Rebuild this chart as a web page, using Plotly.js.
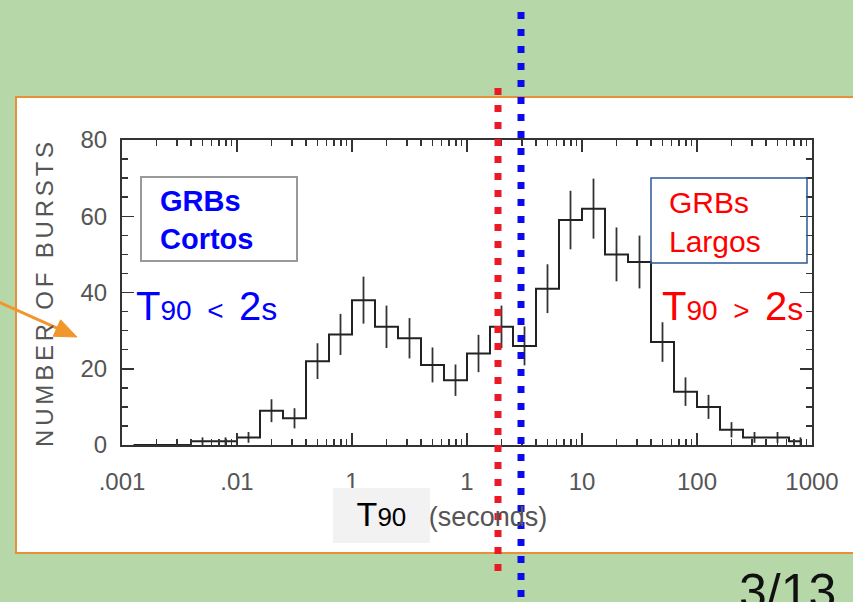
<!DOCTYPE html>
<html><head><meta charset="utf-8">
<script src="https://cdn.plot.ly/plotly-3.0.1.min.js"></script>
<style>
html,body{margin:0;padding:0;background:#b6d7a8;}
#chart{width:853px;height:602px;}
.ytitle{letter-spacing:3.8px;}
</style></head><body><div id="chart"></div>
<script>
// T90 bin centres (seconds), bins 0.2 dex wide
const binCentersSec = [0.001259,0.001995,0.003162,0.005012,0.007943,
  0.01259,0.01995,0.03162,0.05012,0.07943,
  0.1259,0.1995,0.3162,0.5012,0.7943,
  1.259,1.995,3.162,5.012,7.943,
  12.59,19.95,31.62,50.12,79.43,
  125.9,199.5,316.2,501.2,794.3];
const burstCounts = [0,0,0,1,1,
  2,9,7,22,29,
  38,31,28,21,17,
  24,31,26,41,59,
  62,50,48,27,14,
  10,4,2,2,1];
const xTickVals = [0.001,0.01,0.1,1,10,100,1000];
const xTickText = ['.001','.01','1','1','10','100','1000'];
const yTickVals = [0,20,40,60,80];
const yTickText = ['0','20','40','60','80'];

// plot-area pixel frame
const L=122, R=812, T=140, B=445, W=853, H=602;
const px = p => (p-L)/(R-L);
const py = p => (B-p)/(B-T);

const minorX = [];
for (let d=-3; d<3; d++) for (let k=2; k<10; k++) minorX.push(k*Math.pow(10,d));

const FONT = 'Liberation Sans, Arial, sans-serif';
const GRAY = '#555';

const trace = {
  x: binCentersSec, y: burstCounts, type:'scatter', mode:'lines',
  line:{shape:'hvh', color:'#222', width:2},
  error_y:{type:'sqrt', visible:true, width:0, thickness:1.8, color:'#333'},
  hoverinfo:'x+y', showlegend:false
};

// orange arrow (decoration) in pixel space
const tip=[77,337], tail=[-6,300];
const dx=tip[0]-tail[0], dy=tip[1]-tail[1], len=Math.hypot(dx,dy);
const ux=dx/len, uy=dy/len, hl=22, hw=9;
const bx=tip[0]-hl*ux, by=tip[1]-hl*uy;
const c1=[bx-hw*uy, by+hw*ux], c2=[bx+hw*uy, by-hw*ux];
const arrowPath = `M ${px(c1[0])} ${py(c1[1])} L ${px(tip[0])} ${py(tip[1])} L ${px(c2[0])} ${py(c2[1])} Z`;

const layout = {
  width:W, height:H,
  paper_bgcolor:'#b6d7a8', plot_bgcolor:'rgba(0,0,0,0)',
  margin:{l:L, r:W-R, t:T, b:H-B, pad:0},
  showlegend:false,
  font:{family:FONT, color:GRAY},
  xaxis:{
    type:'log', range:[-3,3], tickmode:'array', tickvals:xTickVals, ticktext:xTickText,
    ticks:'inside', ticklen:12, tickwidth:1.5, tickcolor:'#333',
    showline:true, linecolor:'#333', linewidth:2, mirror:'ticks',
    showgrid:false, zeroline:false, ticklabelstandoff:14,
    tickfont:{size:24, color:GRAY, family:FONT},
    minor:{tickmode:'array', tickvals:minorX, ticks:'inside', ticklen:6, tickwidth:1.5, tickcolor:'#333', showgrid:false},
    title:{text:"<span style='color:#000000;font-size:34px'>T</span><span style='color:#000000;font-size:26px'>90</span>&nbsp;&nbsp;&nbsp;(seconds)&nbsp;&nbsp;&nbsp;&nbsp;",
      font:{size:27, color:GRAY, family:FONT}, standoff:10}
  },
  yaxis:{
    range:[0,80], tickmode:'array', tickvals:yTickVals, ticktext:yTickText,
    ticks:'inside', ticklen:12, tickwidth:1.5, tickcolor:'#333',
    showline:true, linecolor:'#333', linewidth:2, mirror:'ticks',
    showgrid:false, zeroline:false, ticklabelstandoff:8,
    tickfont:{size:24, color:GRAY, family:FONT},
    minor:{dtick:5, ticks:'inside', ticklen:6, tickwidth:1.5, tickcolor:'#333', showgrid:false},
    title:{text:'NUMBER OF BURSTS', font:{size:24, color:GRAY, family:FONT}, standoff:20}
  },
  shapes:[
    {type:'rect', xref:'paper', yref:'paper', x0:px(16), x1:px(880), y0:py(553), y1:py(97),
     fillcolor:'#ffffff', line:{color:'#e69138', width:2}, layer:'below'},
    {type:'rect', xref:'paper', yref:'paper', x0:px(333), x1:px(430), y0:py(543), y1:py(488),
     fillcolor:'#f2f2f2', line:{width:0}, layer:'above'},
    {type:'rect', xref:'paper', yref:'paper', x0:px(141), x1:px(297), y0:py(261), y1:py(177),
     fillcolor:'rgba(0,0,0,0)', line:{color:'#999999', width:2}, layer:'above'},
    {type:'rect', xref:'paper', yref:'paper', x0:px(651), x1:px(807), y0:py(263), y1:py(178),
     fillcolor:'rgba(0,0,0,0)', line:{color:'#2b5797', width:1.5}, layer:'above'},
    {type:'line', xref:'paper', yref:'paper', x0:px(tail[0]), y0:py(tail[1]), x1:px(bx+2*ux), y1:py(by+2*uy),
     line:{color:'#f0962d', width:3}, layer:'above'},
    {type:'path', xref:'paper', yref:'paper', path:arrowPath,
     fillcolor:'#f0962d', line:{color:'#f0962d', width:1}, layer:'above'},
    {type:'line', xref:'paper', yref:'paper', x0:px(498), x1:px(498), y0:py(88), y1:py(580),
     line:{color:'rgb(235,25,35)', width:7, dash:'7px,10px'}, layer:'above'},
    {type:'line', xref:'paper', yref:'paper', x0:px(521), x1:px(521), y0:py(12), y1:py(602),
     line:{color:'rgb(10,10,235)', width:7, dash:'7px,10px'}, layer:'above'}
  ],
  annotations:[
    {xref:'paper', yref:'paper', x:px(158), y:py(220), xanchor:'left', yanchor:'middle', align:'left',
     text:'<b>GRBs<br>Cortos</b>', showarrow:false, font:{size:29, color:'#0000ff', family:FONT}},
    {xref:'paper', yref:'paper', x:px(667), y:py(222), xanchor:'left', yanchor:'middle', align:'left',
     text:'GRBs<br>Largos', showarrow:false, font:{size:30, color:'#ff0000', family:FONT}},
    {xref:'paper', yref:'paper', x:px(134), y:py(330), xanchor:'left', yanchor:'bottom', align:'left',
     text:"<span style='font-size:40px'>T</span><span style='font-size:28px'>90&nbsp;&nbsp;&lt;&nbsp;&nbsp;</span><span style='font-size:40px'>2</span><span style='font-size:32px'>s</span>",
     showarrow:false, font:{size:28, color:'#0000ff', family:FONT}},
    {xref:'paper', yref:'paper', x:px(660), y:py(330), xanchor:'left', yanchor:'bottom', align:'left',
     text:"<span style='font-size:40px'>T</span><span style='font-size:28px'>90&nbsp;&nbsp;&gt;&nbsp;&nbsp;</span><span style='font-size:40px'>2</span><span style='font-size:32px'>s</span>",
     showarrow:false, font:{size:28, color:'#ff0000', family:FONT}},
    {xref:'paper', yref:'paper', x:px(737), y:py(562), xanchor:'left', yanchor:'top',
     text:'3/13', showarrow:false, font:{size:50, color:'#111111', family:FONT}}
  ]
};

Plotly.newPlot('chart', [trace], layout, {displayModeBar:false, staticPlot:true});
</script>
</body></html>
